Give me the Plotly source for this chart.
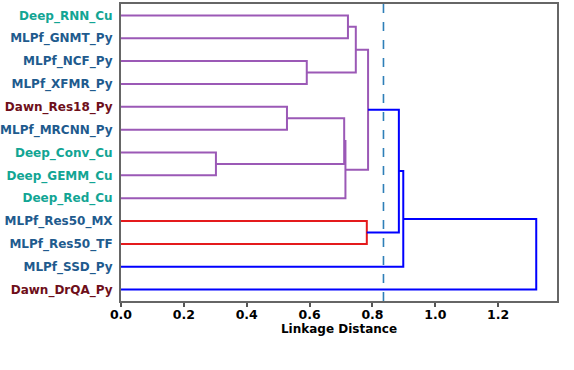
import plotly.graph_objects as go

# leaves, top to bottom
leaf_labels = [
    "Deep_RNN_Cu", "MLPf_GNMT_Py", "MLPf_NCF_Py", "MLPf_XFMR_Py",
    "Dawn_Res18_Py", "MLPf_MRCNN_Py", "Deep_Conv_Cu", "Deep_GEMM_Cu",
    "Deep_Red_Cu", "MLPf_Res50_MX", "MLPf_Res50_TF", "MLPf_SSD_Py",
    "Dawn_DrQA_Py",
]

# merges: (left node, right node); nodes 0..12 are leaves, 13+ are clusters
merge_left = [6, 4, 2, 14, 16, 0, 18, 19, 9, 20, 22, 23]
merge_right = [7, 5, 3, 13, 8, 1, 15, 17, 10, 21, 11, 12]
merge_dist = [0.302, 0.528, 0.591, 0.710, 0.714, 0.722, 0.747, 0.786, 0.782, 0.884, 0.898, 1.321]
merge_group = ["purple"] * 8 + ["red"] + ["blue"] * 3

threshold = 0.835

group_colors = {"purple": "#9b59b6", "red": "#e41a1c", "blue": "#0000ff"}
prefix_colors = {"Deep": "#12a594", "MLPf": "#1f5b8e", "Dawn": "#6e0f1a"}

n = len(leaf_labels)
pos = [10 * i + 5 for i in range(n)]
height = [0.0] * n

segs = {g: ([], []) for g in group_colors}
for a, b, d, g in zip(merge_left, merge_right, merge_dist, merge_group):
    xs, ys = segs[g]
    xs += [height[a], d, d, height[b], None]
    ys += [pos[a], pos[a], pos[b], pos[b], None]
    pos.append((pos[a] + pos[b]) / 2)
    height.append(d)

fig = go.Figure()
for g, (xs, ys) in segs.items():
    fig.add_trace(go.Scatter(x=xs, y=ys, mode="lines",
                             line=dict(color=group_colors[g], width=2),
                             hoverinfo="skip", showlegend=False))

fig.add_shape(type="line", x0=threshold, x1=threshold, y0=0, y1=1, yref="paper",
              line=dict(color="#2e7fb8", width=1.6, dash="dash"))

ticktext = [
    f"<span style='color:{prefix_colors[lab.split('_')[0]]}'>{lab}</span>"
    for lab in leaf_labels
]

fig.update_layout(
    width=574, height=370,
    margin=dict(l=121, r=17, t=4, b=69),
    plot_bgcolor="white", paper_bgcolor="white",
    font=dict(family="DejaVu Sans", color="black"),
)
fig.update_xaxes(
    range=[0, max(merge_dist) * 1.05],
    tickvals=[0.0, 0.2, 0.4, 0.6, 0.8, 1.0, 1.2],
    ticktext=["0.0", "0.2", "0.4", "0.6", "0.8", "1.0", "1.2"],
    ticks="outside", ticklen=4, tickwidth=1.5, tickcolor="#555",
    ticklabelstandoff=-3,
    tickfont=dict(size=12.5, weight="bold"),
    showgrid=False, zeroline=False, automargin=False,
    showline=True, mirror=True, linecolor="#666", linewidth=2,
    title=dict(text="Linkage Distance", font=dict(size=12, weight="bold"), standoff=0),
)
fig.update_yaxes(
    range=[10 * n, 0],
    tickvals=[10 * i + 5 for i in range(n)],
    ticktext=ticktext,
    ticks="", ticklabelstandoff=4,
    tickfont=dict(size=12, weight="bold"),
    showgrid=False, zeroline=False, automargin=False,
    showline=True, mirror=True, linecolor="#666", linewidth=2,
)

# drop the browser's default page margin so the figure sits at the corner
fig.write_html("out.html", config={"displayModeBar": False},
               post_script="document.body.style.margin='0';")
